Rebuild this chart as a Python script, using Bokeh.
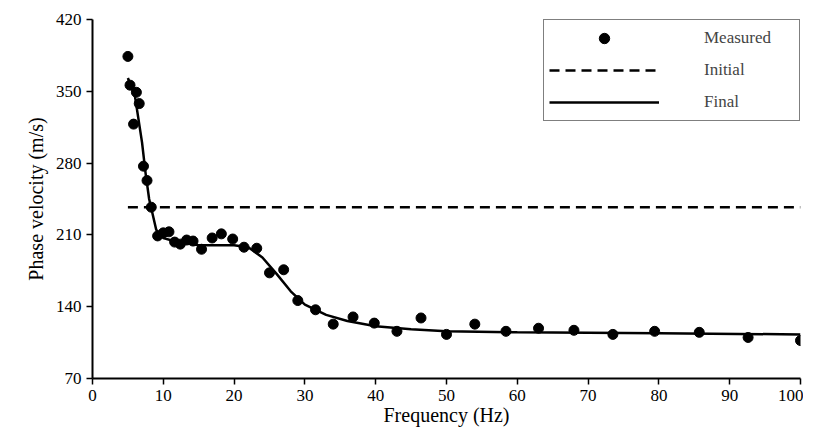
from bokeh.plotting import figure
from bokeh.embed import file_html
from bokeh.resources import INLINE
from bokeh.models import Legend, LegendItem, FixedTicker

meas_f = [5.0,5.3,5.8,6.2,6.6,7.2,7.7,8.3,9.2,10.0,10.8,11.6,12.4,13.3,14.2,15.4,16.9,18.2,19.8,21.4,23.2,25.0,27.0,29.0,31.5,34.0,36.8,39.8,43.0,46.4,50.0,54.0,58.4,63.0,68.0,73.5,79.4,85.7,92.6,100.0]
meas_v = [384,356,318,349,338,277,263,237,209,212,213,203,201,205,204,196,207,211,206,198,197,173,176,146,137,123,130,124,116,129,113,123,116,119,117,113,116,115,110,107]
init_f = [5, 100]
init_v = [237, 237]
final_f = [5,6,7,7.5,8,9,10,12,15,20,22,24,26,28,30,33,36,40,45,50,60,80,100]
final_v = [363,345,300,270,245,215,207,203,200,200,198,188,172,155,142,132,126,121,118,116,115,114,113]

FONT = "'Liberation Serif', 'Times New Roman', serif"

p = figure(width=803, height=430, output_backend="svg", toolbar_location=None,
           x_range=(0, 100), y_range=(70, 420),
           min_border_left=92, min_border_right=3, min_border_top=19, min_border_bottom=52)
p.grid.visible = False
p.outline_line_color = None
p.xaxis.ticker = FixedTicker(ticks=list(range(0, 101, 10)))
p.yaxis.ticker = FixedTicker(ticks=[70,140,210,280,350,420])
for ax in (p.xaxis[0], p.yaxis[0]):
    ax.axis_line_color = "black"
    ax.axis_line_width = 2
    ax.major_tick_line_color = "black"
    ax.major_tick_line_width = 1.5
    ax.major_tick_out = 6
    ax.major_tick_in = 0
    ax.minor_tick_line_color = None
    ax.major_label_text_font = FONT
    ax.major_label_text_font_size = "17px"
    ax.major_label_text_color = "black"
    ax.axis_label_text_font = FONT
    ax.axis_label_text_font_size = "20px"
    ax.axis_label_text_font_style = "normal"
    ax.axis_label_text_color = "black"
p.xaxis.axis_label = "Frequency (Hz)"
p.yaxis.axis_label = "Phase velocity (m/s)"
p.xaxis.axis_label_standoff = 0
p.yaxis.axis_label_standoff = 6

r1 = p.scatter(meas_f, meas_v, size=10, color="black")
r2 = p.line(init_f, init_v, line_color="black", line_width=2.5, line_dash="10 6")
r3 = p.line(final_f, final_v, line_color="black", line_width=2.5)

leg = Legend(items=[LegendItem(label="Measured", renderers=[r1]),
                    LegendItem(label="Initial", renderers=[r2]),
                    LegendItem(label="Final", renderers=[r3])],
             location="top_right", label_text_font=FONT,
             label_text_font_size="17px", border_line_color="black", border_line_width=1.5,
             glyph_width=110, glyph_height=26, label_width=90, spacing=6, margin=0, padding=5,
             label_standoff=45)
p.add_layout(leg)

open("out.html", "w").write(file_html(p, INLINE))
